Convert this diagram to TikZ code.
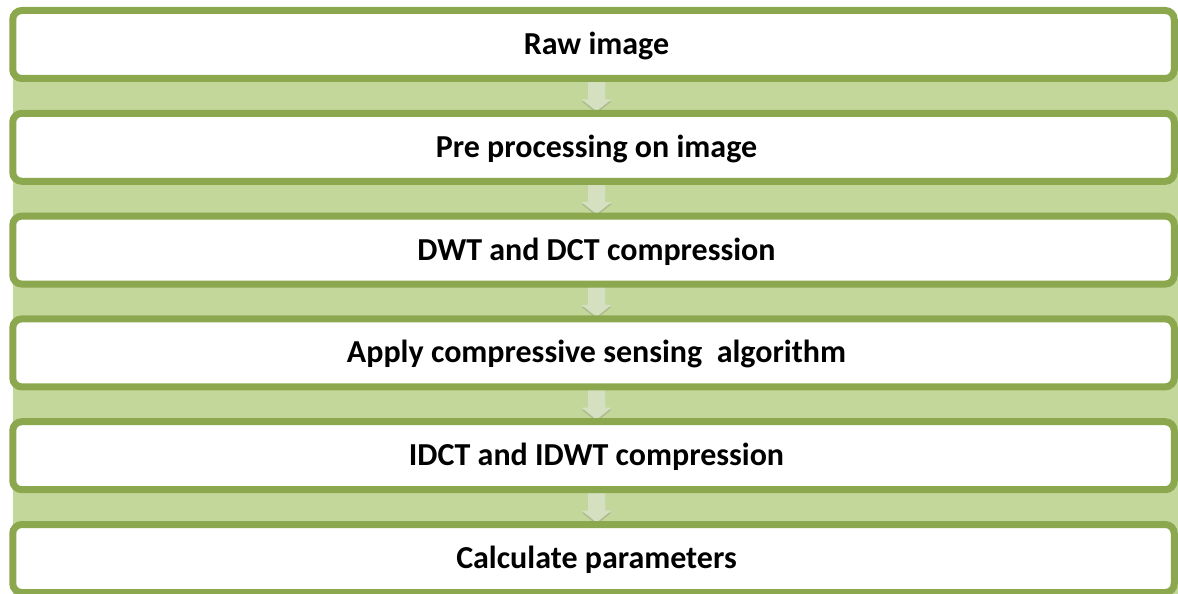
\documentclass[tikz,border=0pt]{standalone}
\usepackage{fontspec}
\setmainfont{Carlito}
\usetikzlibrary{shadows,calc}
\definecolor{gborder}{HTML}{8CA84F}
\definecolor{gband}{HTML}{C4D79B}
\definecolor{garrow}{HTML}{D4E0C0}
\pgfdeclarelayer{bg}
\pgfsetlayers{bg,main}
\begin{document}
\begin{tikzpicture}[x=1pt,y=-1pt,
  box/.style={rectangle, rounded corners=9pt, draw=gborder, line width=7pt, fill=white,
    minimum width=1161.5pt, minimum height=68pt, inner sep=0pt, outer sep=0pt,
    text height=20pt, text depth=0pt,
    font=\fontsize{32}{38}\selectfont\bfseries,
    execute at begin node={\hspace*{6pt}},
    drop shadow={shadow xshift=0pt, shadow yshift=-3pt, opacity=0.35, fill=black!60}},
  flowarrow/.style={fill=garrow, drop shadow={shadow xshift=0pt, shadow yshift=-2pt, opacity=0.25, fill=black!60}}]
\useasboundingbox (0,0) rectangle (1178,594);
\begin{pgfonlayer}{bg}
  \fill[gband] (13,44) rectangle (1178,594);
\end{pgfonlayer}
\node[box] (n1) at (593.5,44.5) {Raw image};
\node[box] (n2) at (593.5,147.3) {Pre processing on image};
\node[box] (n3) at (593.5,250.1) {DWT and DCT compression};
\node[box] (n4) at (593.5,352.9) {Apply compressive sensing\ \ algorithm};
\node[box] (n5) at (593.5,455.7) {IDCT and IDWT compression};
\node[box] (n6) at (593.5,558.5) {Calculate parameters};
\begin{pgfonlayer}{bg}
\foreach \a/\b in {n1/n2,n2/n3,n3/n4,n4/n5,n5/n6}{
  \fill[flowarrow] let \p1=($(\a.south)+(3,0)$), \p2=($(\b.north)+(3,0)$) in
    (\x1-9pt,\y1) -- (\x1+9pt,\y1) -- (\x1+9pt,\y2+14pt) -- (\x1+15pt,\y2+14pt)
    -- (\x1,\y2+2pt) -- (\x1-15pt,\y2+14pt) -- (\x1-9pt,\y2+14pt) -- cycle;
}
\end{pgfonlayer}
\end{tikzpicture}
\end{document}
